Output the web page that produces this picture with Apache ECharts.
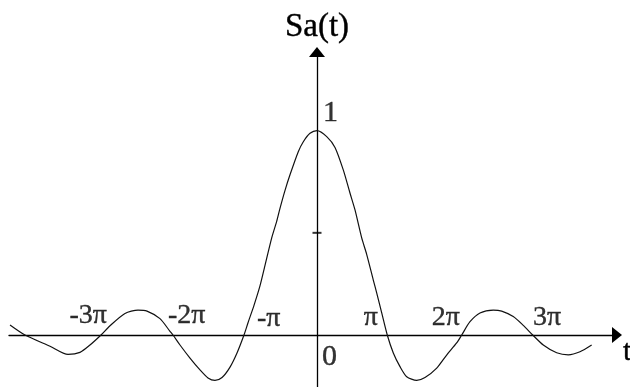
<!DOCTYPE html>
<html>
<head>
<meta charset="utf-8">
<title>Sa(t)</title>
<script src="https://cdn.jsdelivr.net/npm/echarts@6/dist/echarts.min.js"></script>
<style>
  html, body { margin: 0; padding: 0; background: #fff; }
  #chart { width: 630px; height: 387px; }
</style>
</head>
<body>
<div id="chart"></div>
<script>
// Sampling function Sa(t); t is measured in multiples of π
const tValues = [
  -4.264, -4.056, -3.708, -3.458, -3.292, -3.153, -3.0, -2.875, -2.667, -2.486,
  -2.361, -2.181, -2.042, -2.0, -1.903, -1.764, -1.625, -1.514, -1.417, -1.319,
  -1.208, -1.111, -1.014, -0.958, -0.875, -0.792, -0.732, -0.629, -0.560, -0.514,
  -0.444, -0.375, -0.260, -0.190, -0.097, 0.0, 0.135, 0.25, 0.365, 0.458,
  0.528, 0.621, 0.690, 0.782, 0.829, 0.899, 0.976, 1.060, 1.153, 1.246,
  1.385, 1.5, 1.663, 1.801, 1.940, 2.010, 2.125, 2.264, 2.449, 2.565,
  2.726, 2.865, 2.996, 3.143, 3.329, 3.490, 3.653, 3.815
];
const saValues = [
  0.049, 0.0, -0.055, -0.095, -0.085, -0.049, 0.0, 0.045, 0.105, 0.122,
  0.117, 0.080, 0.018, 0.0, -0.049, -0.113, -0.171, -0.210, -0.222, -0.208,
  -0.157, -0.088, 0.0, 0.060, 0.145, 0.240, 0.326, 0.475, 0.556, 0.620,
  0.708, 0.784, 0.897, 0.946, 0.987, 1.0, 0.971, 0.918, 0.808, 0.695,
  0.612, 0.475, 0.395, 0.269, 0.206, 0.108, 0.0, -0.088, -0.155, -0.204,
  -0.222, -0.208, -0.162, -0.098, -0.039, 0.0, 0.065, 0.108, 0.122, 0.117,
  0.090, 0.047, 0.0, -0.049, -0.087, -0.097, -0.082, -0.049
];

// Multiples of π marked along the t axis
const piTickPos = [-3, -2, -1, 1, 2, 3];
const piTickText = ['-3π', '-2π', '-π', 'π', '2π', '3π'];

// Marks on the vertical axis
const yTickPos = [0.5];
const yLabelValues = [1];
const originValue = 0;
const originText = '0';

const FONT = '"Liberation Serif", "Times New Roman", serif';
const INK = '#000';
// a hairline outline makes the serif glyphs read a little heavier
const TEXT_WEIGHT = { textBorderColor: INK, textBorderWidth: 0.4 };

// Where each π label sits next to its crossing point (pixels)
const piLabelPlacement = [
  { align: 'right', dx: 6,   dy: -5 },
  { align: 'left',  dx: -5,  dy: -5 },
  { align: 'left',  dx: 12,  dy: -2 },
  { align: 'right', dx: -11, dy: -3 },
  { align: 'right', dx: -1,  dy: -3 },
  { align: 'left',  dx: 0,   dy: -3 }
];

const curve = tValues.map((t, i) => [t, saValues[i]]);

const piLabelData = piTickPos.map((k, i) => ({
  value: [k, 0],
  label: {
    show: true,
    formatter: piTickText[i],
    position: [piLabelPlacement[i].dx, piLabelPlacement[i].dy],
    align: piLabelPlacement[i].align,
    verticalAlign: 'bottom'
  }
}));

// Value labels on the vertical axis ("1") and at the origin ("0")
const axisTextData = yLabelValues.map(v => ({
  value: [0, v],
  label: { show: true, formatter: String(v), position: [6, -3], align: 'left', verticalAlign: 'bottom' }
})).concat([{
  value: [0, originValue],
  label: { show: true, formatter: originText, position: [5, 7], align: 'left', verticalAlign: 'top' }
}]);

const yTickData = yTickPos.map(v => [0, v]);

const chart = echarts.init(document.getElementById('chart'), null, { renderer: 'canvas' });

chart.setOption({
  animation: false,
  backgroundColor: '#fff',
  textStyle: { fontFamily: FONT, color: INK },
  grid: { left: 9, right: 13, top: 52, bottom: 0, containLabel: false, outerBoundsMode: 'none' },
  xAxis: {
    type: 'value',
    min: -4.278,
    max: 4.167,
    name: 't',
    nameLocation: 'end',
    nameGap: 6,
    nameTextStyle: Object.assign({
      fontFamily: FONT, fontSize: 30, color: INK,
      align: 'left', verticalAlign: 'top', padding: [2, 0, 0, 0]
    }, TEXT_WEIGHT),
    axisLine: {
      show: true,
      onZero: true,
      symbol: ['none', 'triangle'],
      symbolSize: [16, 10],
      lineStyle: { color: INK, width: 1.3 }
    },
    axisTick: { show: false },
    splitLine: { show: false },
    axisLabel: { show: false }
  },
  yAxis: {
    type: 'value',
    min: -0.2545,
    max: 1.385,
    name: 'Sa(t)',
    nameLocation: 'end',
    nameGap: 8,
    nameTextStyle: Object.assign({ fontFamily: FONT, fontSize: 33, color: INK, align: 'center' }, TEXT_WEIGHT),
    axisLine: {
      show: true,
      onZero: true,
      symbol: ['none', 'triangle'],
      symbolSize: [16, 10],
      lineStyle: { color: INK, width: 1.3 }
    },
    axisTick: { show: false },
    splitLine: { show: false },
    axisLabel: { show: false }
  },
  series: [
    {
      name: 'Sa(t)',
      type: 'line',
      data: curve,
      showSymbol: false,
      smooth: 0.25,
      lineStyle: { color: '#111', width: 1.2 },
      z: 3
    },
    {
      name: 'π marks',
      type: 'scatter',
      data: piLabelData,
      symbolSize: 0,
      itemStyle: { color: 'transparent' },
      label: Object.assign({ fontFamily: FONT, fontSize: 28, color: INK }, TEXT_WEIGHT),
      silent: true,
      z: 4
    },
    {
      name: 'axis values',
      type: 'scatter',
      data: axisTextData,
      symbolSize: 0,
      itemStyle: { color: 'transparent' },
      label: Object.assign({ fontFamily: FONT, fontSize: 30, color: INK }, TEXT_WEIGHT),
      silent: true,
      z: 4
    },
    {
      name: 'y tick',
      type: 'scatter',
      data: yTickData,
      symbol: 'rect',
      symbolSize: [9, 2],
      itemStyle: { color: INK },
      silent: true,
      z: 5
    }
  ]
});
</script>
</body>
</html>
